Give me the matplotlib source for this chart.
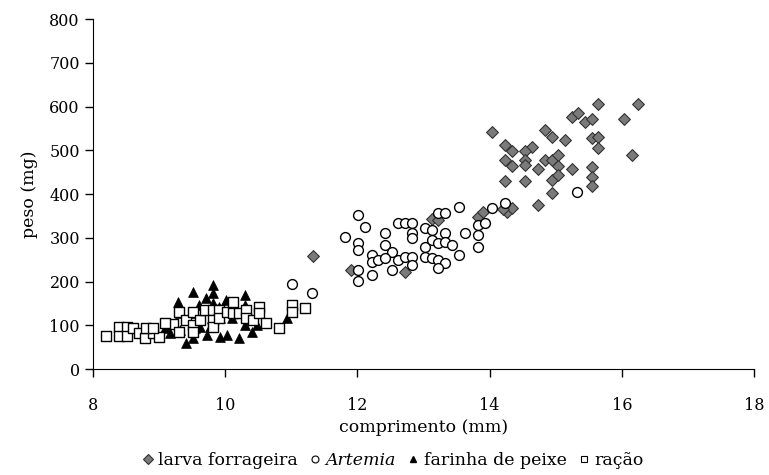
import matplotlib
matplotlib.use('Agg')
import matplotlib.pyplot as plt
from matplotlib.lines import Line2D

# larva forrageira
larva_x = [11.33, 11.9, 12.72, 13.13, 13.22, 13.82, 13.9, 14.26, 14.34, 14.04, 14.23, 14.34,
           14.64, 14.54, 14.23, 14.34, 14.54, 14.54, 14.23, 14.54, 14.84, 14.94, 15.14, 14.73,
           14.84, 14.94, 15.03, 15.03, 14.94, 15.03, 14.94, 14.73, 15.25, 15.25, 15.34, 15.44,
           15.55, 15.64, 15.55, 15.64, 15.64, 15.55, 15.55, 15.55, 16.03, 16.24, 16.15, 14.2]
larva_y = [258, 226, 222, 343, 340, 347, 359, 359, 368, 542, 512, 498,
           507, 498, 478, 464, 478, 466, 430, 430, 546, 530, 523, 457,
           478, 478, 489, 464, 432, 443, 402, 375, 457, 576, 585, 565,
           571, 606, 528, 530, 505, 462, 439, 418, 571, 606, 489, 365]

# Artemia
artemia_x = [12.01, 12.11, 11.81, 12.01, 12.01, 12.22, 12.22, 12.42, 12.01, 12.01, 12.22, 12.31,
             12.42, 12.52, 12.42, 12.52, 12.61, 12.72, 12.83, 12.83, 12.83, 12.61, 12.72, 12.83,
             12.83, 13.02, 13.13, 13.02, 13.13, 13.22, 13.33, 13.33, 13.22, 13.33, 13.43, 13.02,
             13.13, 13.22, 13.33, 13.22, 13.53, 13.53, 13.63, 13.82, 13.82, 13.82, 13.93, 14.04,
             14.23, 11.01, 11.31, 15.32]
artemia_y = [352, 325, 302, 288, 272, 261, 245, 311, 226, 201, 215, 249,
             283, 267, 254, 226, 334, 334, 334, 311, 299, 249, 256, 256,
             238, 322, 318, 279, 295, 356, 356, 311, 288, 290, 283, 256,
             254, 249, 242, 231, 370, 261, 311, 329, 306, 279, 334, 368,
             379, 194, 174, 405]

# farinha de peixe
farinha_x = [9.09, 9.29, 9.41, 9.51, 9.6, 9.51, 9.71, 9.82, 9.82, 9.82, 9.91, 10.01,
             9.92, 10.03, 10.3, 10.3, 10.21, 10.41, 9.32, 9.62, 9.72, 9.16, 10.94, 9.8,
             10.1, 9.32, 9.51, 10.48, 10.3, 10.18, 9.92, 9.77, 9.54]
farinha_y = [94, 153, 59, 176, 146, 71, 162, 192, 174, 151, 142, 158,
             73, 78, 169, 146, 71, 85, 89, 96, 78, 82, 117, 117,
             117, 128, 128, 101, 101, 128, 117, 96, 94]

# ração
racao_x = [8.2, 8.39, 8.39, 8.51, 8.51, 8.6, 8.69, 8.79, 8.9, 9.0, 8.8, 9.21,
           9.3, 9.3, 9.41, 9.51, 9.51, 9.51, 9.62, 9.7, 9.82, 9.82, 9.82, 9.91,
           9.91, 10.03, 10.12, 10.12, 10.21, 10.31, 10.31, 10.42, 10.51, 10.51, 10.62, 10.81,
           11.01, 11.01, 9.09, 8.91, 11.2]
racao_y = [75, 96, 75, 96, 75, 94, 82, 71, 82, 73, 94, 103,
           130, 85, 112, 130, 101, 85, 112, 135, 135, 112, 96, 135,
           117, 130, 153, 128, 128, 135, 117, 112, 142, 128, 105, 94,
           146, 130, 105, 94, 140]

plt.rcParams['font.family'] = ['DejaVu Serif']

fig = plt.figure(figsize=(7.69, 4.75), dpi=100)
ax = fig.add_axes([0.121, 0.223, 0.8595, 0.737])

# series drawn in spreadsheet order, later series on top
ax.scatter(larva_x, larva_y, marker='D', s=36, facecolor='#7a7a7a', edgecolor='#333333', linewidth=0.8, zorder=2)
ax.scatter(artemia_x, artemia_y, marker='o', s=50, facecolor='white', edgecolor='black', linewidth=1.0, zorder=3)
ax.scatter(farinha_x, farinha_y, marker='^', s=50, facecolor='black', edgecolor='black', linewidth=0.5, zorder=4)
ax.scatter(racao_x, racao_y, marker='s', s=46, facecolor='white', edgecolor='black', linewidth=1.0, zorder=5)

ax.set_xlim(8, 18)
ax.set_ylim(0, 800)
ax.set_xticks(range(8, 19, 2))
ax.set_yticks(range(0, 801, 100))
for s in ['top', 'right']:
    ax.spines[s].set_visible(False)
ax.tick_params(direction='out', length=6, width=1, labelsize=11.5)
ax.tick_params(axis='x', pad=14)
ax.set_xlabel('comprimento (mm)', fontsize=12.5, labelpad=4)
ax.set_ylabel('peso (mg)', fontsize=12.5, labelpad=8)

handles = [
    Line2D([], [], ls='none', marker='D', ms=5, mfc='#7a7a7a', mec='#333333', mew=0.8),
    Line2D([], [], ls='none', marker='o', ms=5, mfc='white', mec='black', mew=0.8),
    Line2D([], [], ls='none', marker='^', ms=5, mfc='black', mec='black'),
    Line2D([], [], ls='none', marker='s', ms=5, mfc='white', mec='black', mew=0.8),
]
labels = ['larva forrageira', 'Artemia', 'farinha de peixe', 'ração']
leg = fig.legend(handles, labels, loc='center', bbox_to_anchor=(0.51, 0.03), ncol=4, frameon=False,
                 fontsize=12.5, handletextpad=0.2, columnspacing=0.6, handlelength=0.8, borderpad=0)
leg.get_texts()[1].set_style('italic')

fig.savefig('out.png', dpi=100)
